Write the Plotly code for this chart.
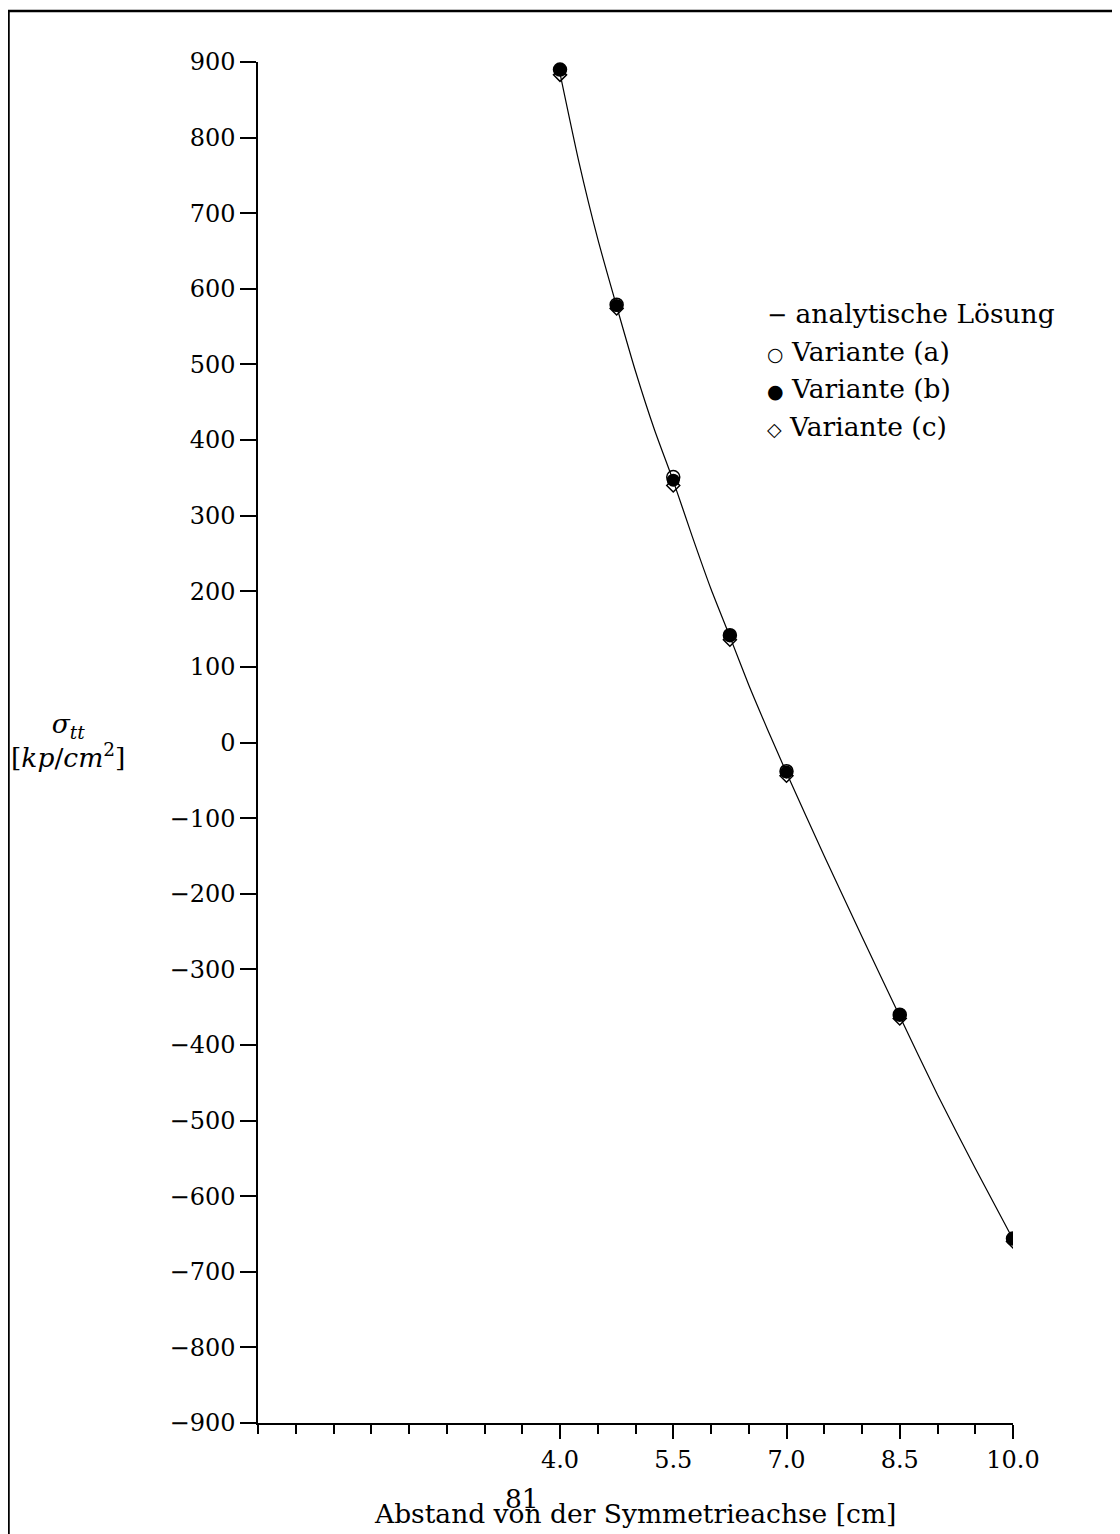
import plotly.graph_objects as go

# ---- data ----
x_nodes = [4.0, 4.75, 5.5, 6.25, 7.0, 8.5, 10.0]
var_a = [890, 579, 351, 142, -38, -360, -656]
var_b = [890, 578, 347, 142, -39, -360, -656]
var_c = [883, 574, 340, 136, -44, -365, -660]

x_analytic = [4.0, 4.25, 4.5, 4.75, 5.0, 5.25, 5.5, 5.75, 6.0, 6.25, 6.5, 6.75,
              7.0, 7.5, 8.0, 8.5, 9.0, 9.5, 10.0]
y_analytic = [885, 768, 666, 577, 491, 414, 346, 273, 203, 140, 76, 17,
              -40, -150, -257, -362, -466, -563, -657]

x_major_ticks = [4.0, 5.5, 7.0, 8.5, 10.0]
x_major_text = ["4.0", "5.5", "7.0", "8.5", "10.0"]

legend_lines = [
    ("<span style='font-size:24px'>−</span>", "analytische Lösung"),
    ("<span style='font-size:19px'>○</span>", "Variante (a)"),
    ("<span style='font-size:19px'>●</span>", "Variante (b)"),
    ("<span style='font-size:19px'>◇</span>", "Variante (c)"),
]

FONT = "DejaVu Serif"
FS = 24
FS_TXT = 26.5

fig = go.Figure()
fig.add_trace(go.Scatter(x=x_analytic, y=y_analytic, mode="lines",
                         line=dict(color="black", width=1.2, shape="spline", smoothing=0.6),
                         name="analytische Lösung", showlegend=False))
fig.add_trace(go.Scatter(x=x_nodes, y=var_c, mode="markers",
                         marker=dict(symbol="diamond-open", size=10, color="black",
                                     line=dict(width=1.5, color="black")),
                         name="Variante (c)", showlegend=False))
fig.add_trace(go.Scatter(x=x_nodes, y=var_a, mode="markers",
                         marker=dict(symbol="circle-open", size=13, color="black",
                                     line=dict(width=1.5, color="black")),
                         name="Variante (a)", showlegend=False))
fig.add_trace(go.Scatter(x=x_nodes, y=var_b, mode="markers",
                         marker=dict(symbol="circle", size=13, color="black"),
                         name="Variante (b)", showlegend=False))

OFF = 8  # page body margin of the html page
W, H = 1120 - OFF, 1534 - OFF
L, R, T, B = 258 - OFF, 107, 62 - OFF, 111
pw, ph = W - L - R, H - T - B

def px2x(px):
    return (px - OFF - L) / pw

def py2y(py):
    return 1 - (py - OFF - T) / ph

fig.update_layout(
    width=W, height=H,
    margin=dict(l=L, r=R, t=T, b=B, pad=0),
    paper_bgcolor="white", plot_bgcolor="white",
    font=dict(family=FONT, size=FS, color="black"),
    showlegend=False,
    xaxis=dict(range=[0, 10], showgrid=False, zeroline=False,
               showline=True, linecolor="black", linewidth=1.5,
               tickmode="array", tickvals=x_major_ticks, ticktext=x_major_text,
               ticks="outside", ticklen=14, tickwidth=1.5, tickcolor="black",
               minor=dict(tick0=0, dtick=0.5, ticks="outside", ticklen=9,
                          tickwidth=1.5, tickcolor="black", showgrid=False),
               tickfont=dict(family=FONT, size=FS)),
    yaxis=dict(range=[-900, 900], showgrid=False, zeroline=False,
               showline=True, linecolor="black", linewidth=1.5,
               tick0=0, dtick=100, ticks="outside", ticklen=16, tickwidth=1.5,
               tickcolor="black", tickfont=dict(family=FONT, size=FS)),
)

annotations = []
# y-axis title
annotations.append(dict(x=px2x(68), y=py2y(740), xref="paper", yref="paper",
                        text="<i>σ</i><sub><i>tt</i></sub><br>[<i>kp</i>/<i>cm</i><sup>2</sup>]",
                        showarrow=False, xanchor="center", yanchor="middle",
                        font=dict(family=FONT, size=FS_TXT)))
# x-axis title
annotations.append(dict(x=px2x(635), y=py2y(1513), xref="paper", yref="paper",
                        text="Abstand von der Symmetrieachse [cm]",
                        showarrow=False, xanchor="center", yanchor="middle",
                        font=dict(family=FONT, size=FS_TXT)))
# page number
annotations.append(dict(x=px2x(522), y=py2y(1498), xref="paper", yref="paper",
                        text="81", showarrow=False, xanchor="center", yanchor="middle",
                        font=dict(family=FONT, size=FS_TXT)))
# legend as text
leg_y = [313, 351, 388, 426]
for (sym, label), yy in zip(legend_lines, leg_y):
    annotations.append(dict(x=px2x(765), y=py2y(yy), xref="paper", yref="paper",
                            text=f"{sym} {label}",
                            showarrow=False, xanchor="left", yanchor="middle",
                            font=dict(family=FONT, size=FS_TXT)))
fig.update_layout(annotations=annotations)

# page frame (left and top edges)
fl, ft, fr, fb = px2x(8.5), py2y(11), px2x(1125), py2y(1540)
fig.add_shape(type="path", xref="paper", yref="paper",
              path=f"M {fl} {fb} L {fl} {ft} L {fr} {ft}",
              line=dict(color="black", width=2.5))

fig.write_html("out.html")
